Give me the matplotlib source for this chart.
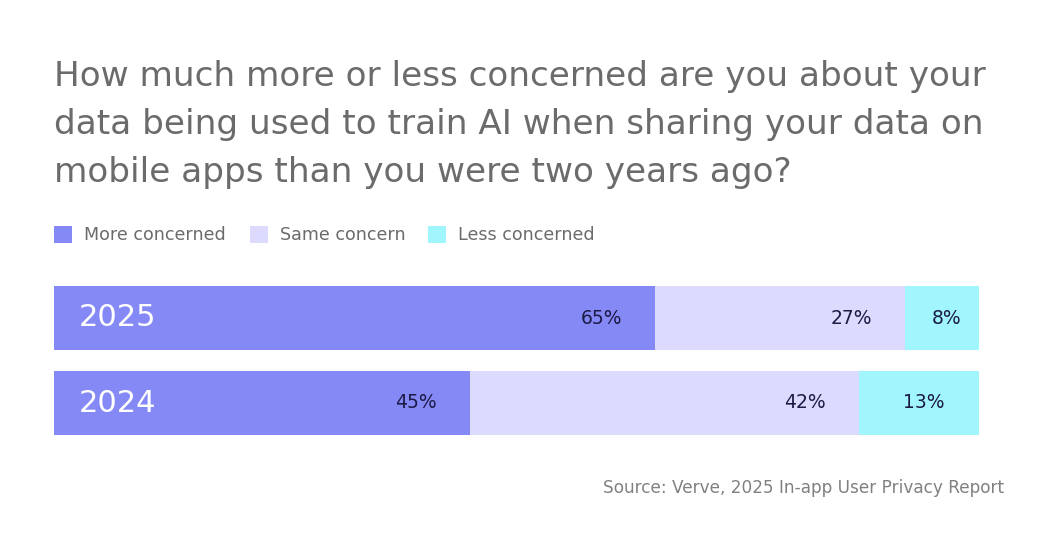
import matplotlib

matplotlib.use("Agg")
import matplotlib.pyplot as plt
from matplotlib.patches import Rectangle

years = ["2024", "2025"]
series = ["More concerned", "Same concern", "Less concerned"]
more = [45, 65]
same = [42, 27]
less = [13, 8]

COLORS = ["#8589F6", "#DCDAFD", "#A1F5FD"]
TITLE_GRAY = "#6B6B6B"
LABEL_DARK = "#1C1B45"
W, H = 1059, 553

plt.rcParams["font.family"] = "DejaVu Sans"

fig = plt.figure(figsize=(W / 100, H / 100), dpi=100)
fig.patch.set_facecolor("white")

fig.text(
    54 / W, 1 - 60 / H,
    "How much more or less concerned are you about your\n"
    "data being used to train AI when sharing your data on\n"
    "mobile apps than you were two years ago?",
    ha="left", va="top", fontsize=24.7, color=TITLE_GRAY, linespacing=1.58,
)

# legend drawn by hand to keep square markers and spacing
leg_x = [54, 250, 428]
for x, name, color in zip(leg_x, series, COLORS):
    fig.add_artist(Rectangle((x / W, 1 - 243 / H), 18 / W, 17 / H, transform=fig.transFigure,
                             facecolor=color, edgecolor="none"))
    fig.text((x + 30) / W, 1 - 235 / H, name, ha="left", va="center", fontsize=12.6, color=TITLE_GRAY)

h = 64 / 85
ax = fig.add_axes([54 / W, 1 - 435 / H, 925 / W, 149 / H])
ax.set_xlim(0, 100)
ax.set_ylim(-h / 2, 1 + h / 2)
ax.axis("off")

ypos = list(range(len(years)))
left = [0] * len(years)
for k, (vals, color) in enumerate(zip([more, same, less], COLORS)):
    ax.barh(ypos, vals, left=left, height=h, color=color, edgecolor="none")
    for i, v in enumerate(vals):
        end = left[i] + v
        if k == 2:
            ax.text(left[i] + v / 2 + 0.5, ypos[i], f"{v}%", ha="center", va="center",
                    fontsize=13.5, color=LABEL_DARK)
        else:
            ax.text(end - 3.6, ypos[i], f"{v}%", ha="right", va="center",
                    fontsize=13.5, color=LABEL_DARK)
    left = [a + b for a, b in zip(left, vals)]

for i, year in enumerate(years):
    ax.text(2.7, ypos[i], year, ha="left", va="center", fontsize=22, color="white")

fig.text(1004 / W, 1 - 488 / H, "Source: Verve, 2025 In-app User Privacy Report",
         ha="right", va="center", fontsize=12.2, color="#808080")

fig.savefig("out.png", dpi=100, facecolor="white")
